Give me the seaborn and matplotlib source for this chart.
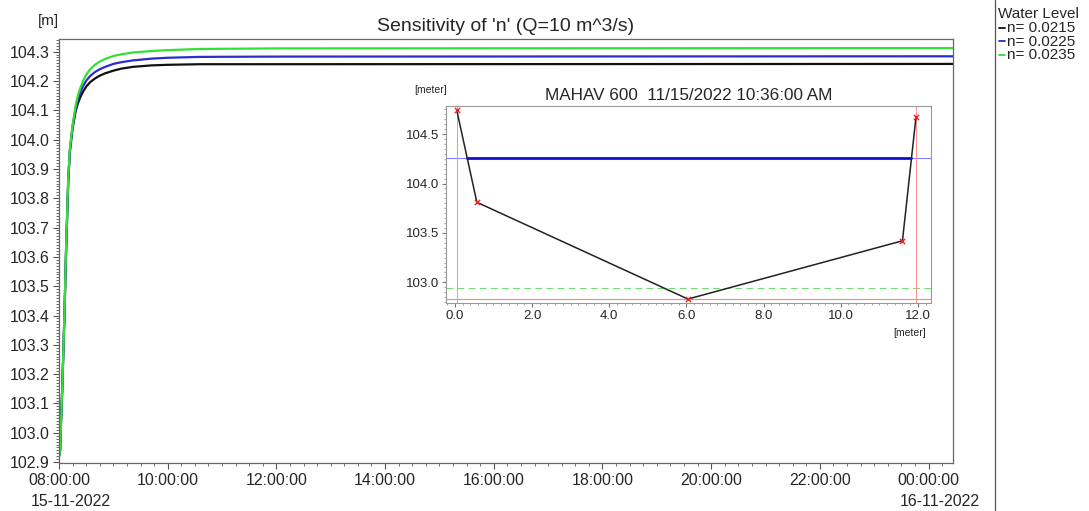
import matplotlib.pyplot as plt
import matplotlib.dates as mdates
from matplotlib.ticker import FuncFormatter, MultipleLocator
import seaborn as sns
import pandas as pd
import numpy as np

sns.set_style('ticks')
plt.rcParams['font.family'] = ['Liberation Sans', 'DejaVu Sans']

# main time series (hours after 08:00 15-11-2022)
hours = [0.0, 0.02, 0.03, 0.06, 0.10, 0.13, 0.17, 0.20, 0.25, 0.31, 0.35, 0.40,
         0.45, 0.51, 0.58, 0.66, 0.75, 0.85, 1.00, 1.15, 1.36, 1.70, 2.00, 2.60,
         4.00, 16.45]
wl_0215 = [102.92, 102.94, 103.00, 103.15, 103.40, 103.62, 103.86, 103.96, 104.04,
           104.10, 104.125, 104.148, 104.166, 104.183, 104.197, 104.208, 104.218, 104.226,
           104.235, 104.242, 104.248, 104.253, 104.255, 104.257, 104.257, 104.258]
wl_0225 = [102.92, 102.94, 103.00, 103.15, 103.40, 103.62, 103.86, 103.96, 104.045,
           104.11, 104.14, 104.165, 104.185, 104.203, 104.218, 104.23, 104.24, 104.248,
           104.258, 104.264, 104.27, 104.276, 104.279, 104.282, 104.283, 104.284]
wl_0235 = [102.92, 102.94, 103.00, 103.15, 103.41, 103.63, 103.87, 103.97, 104.05,
           104.12, 104.152, 104.18, 104.203, 104.224, 104.241, 104.255, 104.266, 104.275,
           104.285, 104.291, 104.297, 104.302, 104.305, 104.309, 104.311, 104.312]
series_names = ['n= 0.0215', 'n= 0.0225', 'n= 0.0235']
series_colors = ['#111111', '#2b2bd0', '#33e033']

# cross section MAHAV 600
xs_dist = [0.05, 0.57, 6.04, 11.6, 11.95]
xs_level = [104.74, 103.81, 102.83, 103.42, 104.67]
water_level = 104.257
initial_level = 102.94

start = pd.Timestamp('2022-11-15 08:00:00')
frames = []
for name, vals in zip(series_names, [wl_0215, wl_0225, wl_0235]):
    frames.append(pd.DataFrame({'time': start + pd.to_timedelta(hours, unit='h'),
                                'level': vals, 'series': name}))
df = pd.concat(frames, ignore_index=True)

fig = plt.figure(figsize=(10.89, 5.11), dpi=100)
ax = fig.add_axes([59 / 1089, 1 - 463 / 511, (953 - 59) / 1089, (463 - 39) / 511])

sns.lineplot(data=df, x='time', y='level', hue='series', palette=series_colors,
             hue_order=series_names, linewidth=1.6, ax=ax, legend=False)

ax.set_xlim(start, start + pd.Timedelta(hours=16.45))
ax.set_ylim(102.897, 104.343)
ax.yaxis.set_major_locator(MultipleLocator(0.1))
ax.yaxis.set_minor_locator(MultipleLocator(0.01))
ax.yaxis.set_major_formatter(FuncFormatter(lambda v, p: f'{v:.1f}'))
ax.xaxis.set_major_locator(mdates.HourLocator(byhour=range(0, 24, 2)))
ax.xaxis.set_minor_locator(mdates.MinuteLocator(byminute=[0, 15, 30, 45]))
ax.xaxis.set_major_formatter(mdates.DateFormatter('%H:%M:%S'))
ax.tick_params(which='major', length=4, labelsize=11.4, color='#555555', pad=3)
ax.tick_params(which='minor', length=2, color='#555555')
ax.set_xlabel('')
ax.set_ylabel('')
for sp in ax.spines.values():
    sp.set_color('#666666')
    sp.set_linewidth(0.9)
ax.set_title("Sensitivity of 'n' (Q=10 m^3/s)", fontsize=14, pad=6)
fig.text(48 / 1089, 1 - 21 / 511, '[m]', fontsize=11, ha='center', va='center')

# date lines below the first and the midnight tick
for d in [start, pd.Timestamp('2022-11-16 00:00:00')]:
    ax.annotate(d.strftime('%d-%m-%Y'), xy=(mdates.date2num(d), 0),
                xycoords=('data', 'axes fraction'), xytext=(-20.5, -22),
                textcoords='offset points', ha='left', va='top', fontsize=11.4)

# inset cross section
ins = fig.add_axes([446 / 1089, 1 - 303 / 511, (931 - 446) / 1089, (303 - 106) / 511])
ins.axhline(water_level, color='#8080ff', linewidth=0.8)
left_x = np.interp(water_level, xs_level[1::-1], xs_dist[1::-1])
right_x = np.interp(water_level, xs_level[3:], xs_dist[3:])
ins.plot([left_x, right_x], [water_level, water_level], color='#1010d0', linewidth=2)
ins.axhline(initial_level, color='#70dd70', linewidth=0.8, linestyle=(0, (6, 4)))
ins.axhline(min(xs_level), color='#ff8080', linewidth=0.8)
ins.axvline(xs_dist[0], color='#ff9090', linewidth=0.7)
ins.axvline(xs_dist[-1], color='#ff9090', linewidth=0.7)
sns.lineplot(x=xs_dist, y=xs_level, color='#222222', linewidth=1.1, ax=ins,
             sort=False)
sns.scatterplot(x=xs_dist, y=xs_level, marker='x', color='#ee2222', s=14,
                linewidth=1, ax=ins, zorder=5)
ins.set_xlim(-0.23, 12.34)
ins.set_ylim(102.79, 104.785)
ins.xaxis.set_major_locator(MultipleLocator(2))
ins.xaxis.set_minor_locator(MultipleLocator(0.2))
ins.yaxis.set_major_locator(MultipleLocator(0.5))
ins.yaxis.set_minor_locator(MultipleLocator(0.05))
ins.xaxis.set_major_formatter(FuncFormatter(lambda v, p: f'{v:.1f}'))
ins.yaxis.set_major_formatter(FuncFormatter(lambda v, p: f'{v:.1f}'))
ins.tick_params(which='major', length=3, labelsize=9.5, color='#777777', pad=2)
ins.tick_params(which='minor', length=1.5, color='#999999')
for sp in ins.spines.values():
    sp.set_color('#999999')
    sp.set_linewidth(0.8)
ins.set_title('MAHAV 600  11/15/2022 10:36:00 AM', fontsize=12.3, pad=4)
fig.text(431 / 1089, 1 - 90 / 511, '[meter]', fontsize=7.5, ha='center', va='center')
fig.text(910 / 1089, 1 - 333 / 511, '[meter]', fontsize=7.5, ha='center', va='center')

# legend panel on the right
fig.add_artist(plt.Line2D([995 / 1089, 995 / 1089], [0, 1], color='#555555', linewidth=0.9))
fig.text(998 / 1089, 1 - 14 / 511, 'Water Level', fontsize=11, ha='left', va='center')
for i, (name, col) in enumerate(zip(series_names, series_colors)):
    y = 1 - (28 + i * 13.5) / 511
    fig.add_artist(plt.Line2D([999 / 1089, 1005 / 1089], [y, y], color=col, linewidth=1.3))
    fig.text(1007 / 1089, y, name, fontsize=11, ha='left', va='center')

fig.savefig('out.png', dpi=100)
